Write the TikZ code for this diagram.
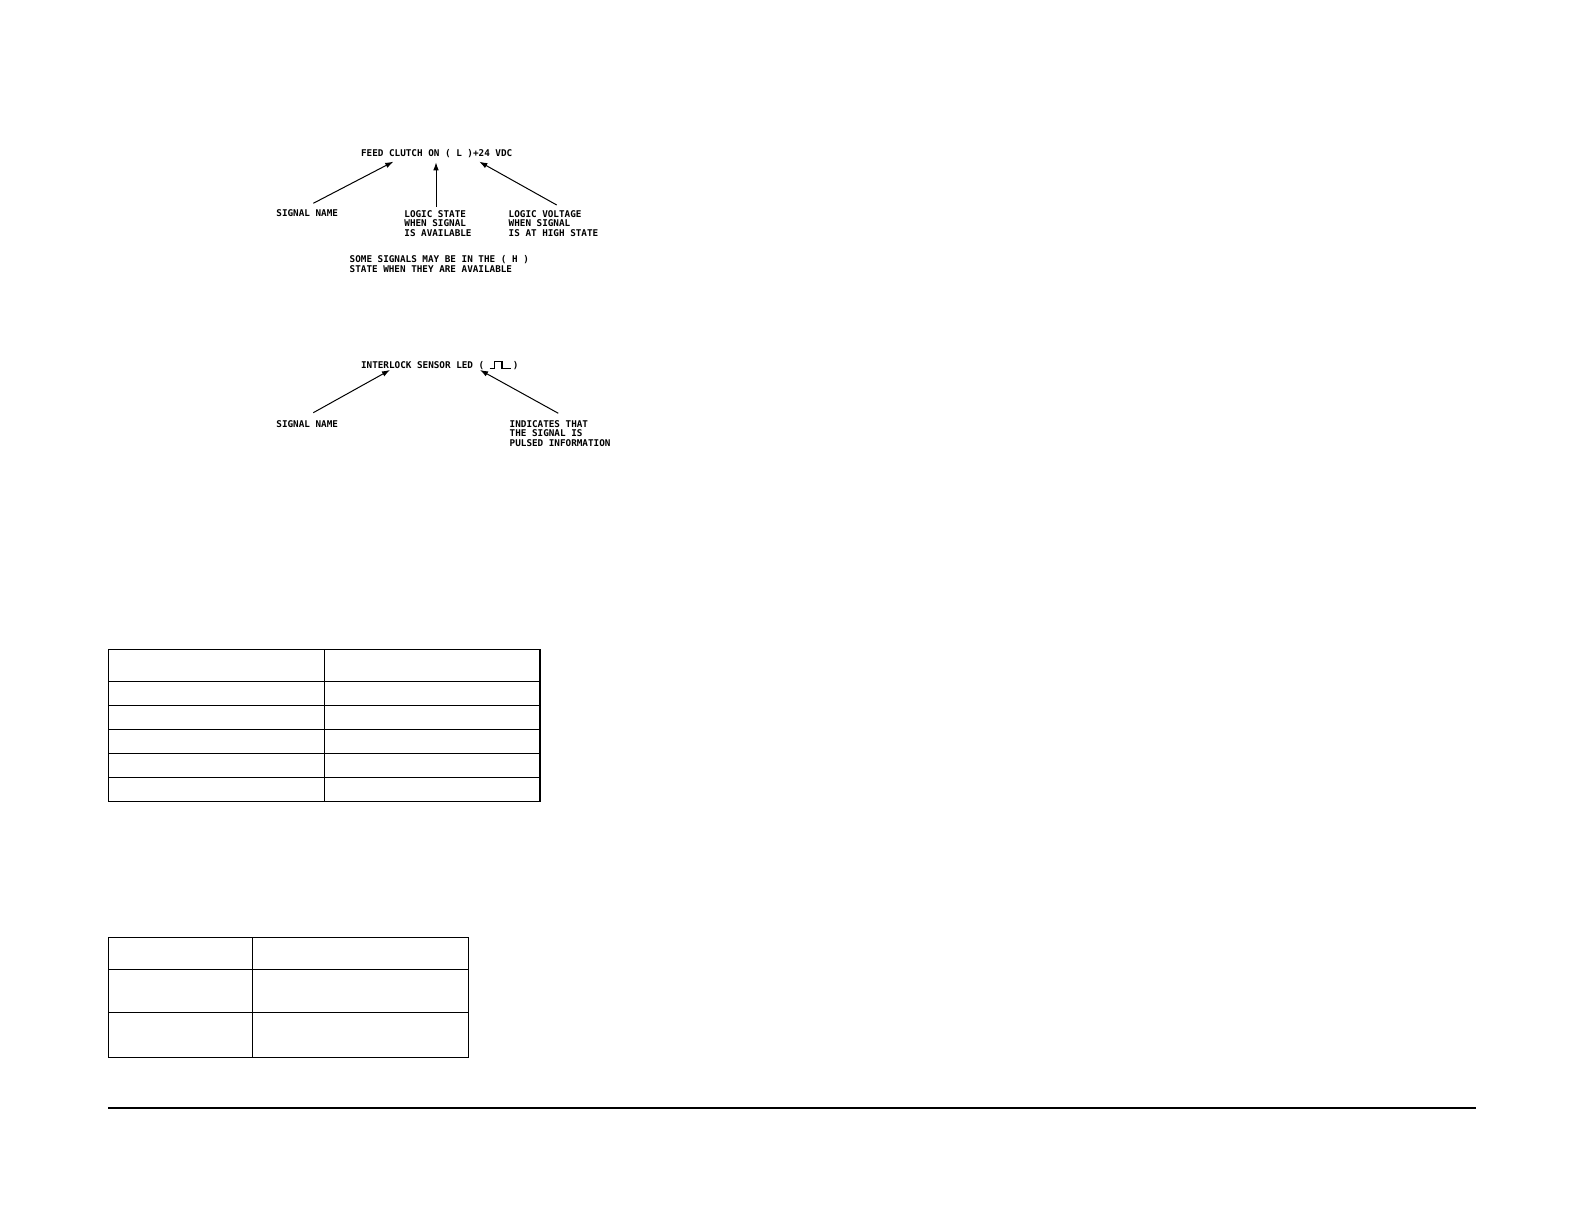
\documentclass[tikz,border=0pt]{standalone}
\usepackage{fontspec}
\usetikzlibrary{arrows.meta}
\newfontfamily\plotter{DejaVu Sans Mono}

\begin{document}
\begin{tikzpicture}[x=0.5pt,y=-0.5pt,
  lbl/.style={font=\plotter\bfseries\fontsize{4.65}{4.8}\selectfont,inner sep=0pt,align=left,anchor=north west},
  pointer/.style={-{Latex[length=4pt,width=2.8pt]},line width=0.5pt},
  grid/.style={line width=0.75pt}]
\fill[white] (0,0) rectangle (1584,1224);
\useasboundingbox (0,0) rectangle (1584,1224);
\node[lbl] (feed)at(360.7,149.3){FEED CLUTCH ON ( L )+24 VDC};
\node[lbl] (sn1)at(276,209.3){SIGNAL NAME};
\node[lbl] (ls)at(404,210){LOGIC STATE\\WHEN SIGNAL\\IS AVAILABLE};
\node[lbl] (lv)at(508.3,210){LOGIC VOLTAGE\\WHEN SIGNAL\\IS AT HIGH STATE};
\node[lbl] (some)at(349.3,255){SOME SIGNALS MAY BE IN THE ( H )\\STATE WHEN THEY ARE AVAILABLE};
\coordinate (t1)at(393.3,161.7);
\coordinate (t2)at(436,162.3);
\coordinate (t3)at(479.3,161.7);
\draw[pointer] ([shift={(37.3,-6)}]sn1.north west) to (t1);
\draw[pointer] ([shift={(32,-3.3)}]ls.north west) to (t2);
\draw[pointer] ([shift={(48.4,-5)}]lv.north west) to (t3);
\node[lbl] (led)at(360.7,360.7){INTERLOCK SENSOR LED (};
\draw[line width=0.55pt] ([xshift=2.5pt]led.base east) -- ++(5,0) -- ++(0,-6.7) -- ++(7.3,0) -- ++(0,6.7) -- ++(9.4,0) coordinate (pend);
\node[lbl,anchor=base west] (ledr)at([xshift=0.5pt]pend){)};
\node[lbl] (sn2)at(276,420){SIGNAL NAME};
\node[lbl] (ind)at(509.3,420){INDICATES THAT\\THE SIGNAL IS\\PULSED INFORMATION};
\coordinate (t4)at(390,370);
\coordinate (t5)at(480,370);
\draw[pointer] ([shift={(37.3,-7.3)}]sn2.north west) to (t4);
\draw[pointer] ([shift={(49,-6.7)}]ind.north west) to (t5);
\draw[grid] (108.3,649.3) rectangle (540,801.7);
\draw[grid] (324.3,649.3) -- (324.3,801.7);
\foreach \y in {681.7,705.7,729.3,753.3,777.3}
  \draw[grid] (108.3,\y) -- (540,\y);
\draw[grid] (108.3,937.3) rectangle (468.3,1057.3);
\draw[grid] (252.3,937.3) -- (252.3,1057.3);
\foreach \y in {969.3,1012.7}
  \draw[grid] (108.3,\y) -- (468.3,\y);
\draw[line width=1pt] (108,1108) -- (1476,1108);
\end{tikzpicture}
\end{document}
